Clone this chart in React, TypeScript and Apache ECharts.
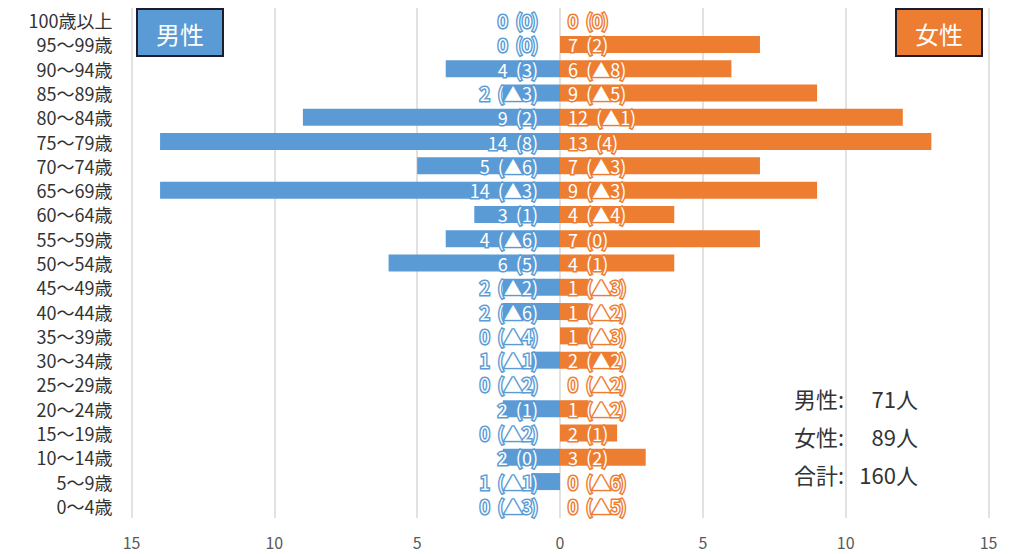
import React, { useEffect, useRef } from "react";
import * as echarts from "echarts";

const categories = [
  "100歳以上", "95～99歳", "90～94歳", "85～89歳", "80～84歳", "75～79歳", "70～74歳",
  "65～69歳", "60～64歳", "55～59歳", "50～54歳", "45～49歳", "40～44歳", "35～39歳",
  "30～34歳", "25～29歳", "20～24歳", "15～19歳", "10～14歳", "5～9歳", "0～4歳",
];
const maleValues = [0, 0, 4, 2, 9, 14, 5, 14, 3, 4, 6, 2, 2, 0, 1, 0, 2, 0, 2, 1, 0];
const maleChanges = [0, 0, 3, -3, 2, 8, -6, -3, 1, -6, 5, -2, -6, -4, -1, -2, 1, -2, 0, -1, -3];
const femaleValues = [0, 7, 6, 9, 12, 13, 7, 9, 4, 7, 4, 1, 1, 1, 2, 0, 1, 2, 3, 0, 0];
const femaleChanges = [0, 2, -8, -5, -1, 4, -3, -3, -4, 0, 1, -3, -2, -3, -2, -2, -2, 1, 2, -6, -5];
const xTicks = { min: -15, max: 15, interval: 5 };
const totalLabels = ["男性:", "女性:", "合計:"];
const totalValues = ["71人", "89人", "160人"];

const BLUE = "#5B9BD5";
const ORANGE = "#ED7D31";
const FONT = "'Noto Sans CJK JP', 'Noto Sans', sans-serif";

const fmtChange = (c: number) => (c < 0 ? "▲" + Math.abs(c) : String(c));

export default function App() {
  const ref = useRef<HTMLDivElement>(null);
  useEffect(() => {
    if (!ref.current) return;
    const chart = echarts.init(ref.current, undefined, { renderer: "svg" });
    chart.setOption({
      animation: false,
      backgroundColor: "#ffffff",
      textStyle: { fontFamily: FONT },
      grid: { left: 131.5, right: 29.5, top: 8, bottom: 36, containLabel: false },
      xAxis: {
        type: "value",
        min: xTicks.min,
        max: xTicks.max,
        interval: xTicks.interval,
        axisLine: { show: false },
        axisTick: { show: false },
        axisLabel: {
          formatter: (v: number) => String(Math.abs(v)),
          color: "#595959",
          fontSize: 16,
          lineHeight: 16,
          fontFamily: FONT,
          margin: 16,
        },
        splitLine: { show: true, lineStyle: { color: "#d9d9d9", width: 1.5 } },
      },
      yAxis: {
        type: "category",
        data: categories,
        inverse: true,
        axisLine: { show: false },
        axisTick: { show: false },
        axisLabel: { interval: 0, color: "#333333", fontSize: 18, lineHeight: 20, fontFamily: FONT, margin: 19 },
      },
      series: [
        {
          name: "男性",
          type: "bar",
          data: maleValues.map((v) => -v),
          barWidth: 17,
          barGap: "-100%",
          itemStyle: { color: BLUE },
          label: {
            show: true,
            position: "insideRight",
            distance: 22,
            formatter: (p: any) => `${maleValues[p.dataIndex]}  (${fmtChange(maleChanges[p.dataIndex])})`,
            color: "#ffffff",
            fontSize: 18,
            lineHeight: 18,
            fontFamily: FONT,
            textBorderColor: BLUE,
            textBorderWidth: 3,
          },
        },
        {
          name: "女性",
          type: "bar",
          data: femaleValues,
          barWidth: 17,
          itemStyle: { color: ORANGE },
          label: {
            show: true,
            position: "insideLeft",
            distance: 8,
            formatter: (p: any) => `${femaleValues[p.dataIndex]}  (${fmtChange(femaleChanges[p.dataIndex])})`,
            color: "#ffffff",
            fontSize: 18,
            lineHeight: 18,
            fontFamily: FONT,
            textBorderColor: ORANGE,
            textBorderWidth: 3,
          },
        },
      ],
      graphic: [
        {
          type: "group",
          left: 136,
          top: 8,
          children: [
            { type: "rect", shape: { x: 0, y: 0, width: 86, height: 47 }, style: { fill: BLUE, stroke: "#1c1c2c", lineWidth: 2 } },
            { type: "text", x: 43, y: 24, style: { text: "男性", fill: "#fff", font: `24px ${FONT}`, align: "center", verticalAlign: "middle" } },
          ],
        },
        {
          type: "group",
          left: 895,
          top: 8,
          children: [
            { type: "rect", shape: { x: 0, y: 0, width: 86, height: 47 }, style: { fill: ORANGE, stroke: "#1c1c2c", lineWidth: 2 } },
            { type: "text", x: 43, y: 24, style: { text: "女性", fill: "#fff", font: `24px ${FONT}`, align: "center", verticalAlign: "middle" } },
          ],
        },
        ...totalLabels.map((t, i) => ({
          type: "text",
          x: 794,
          y: 398 + i * 38,
          style: { text: t, fill: "#333333", font: `22px ${FONT}`, align: "left", verticalAlign: "middle" },
        })),
        ...totalValues.map((t, i) => ({
          type: "text",
          x: 918,
          y: 398 + i * 38,
          style: { text: t, fill: "#333333", font: `22px ${FONT}`, align: "right", verticalAlign: "middle" },
        })),
      ],
    });
    return () => chart.dispose();
  }, []);
  return (
    <div
      ref={ref}
      style={{ position: "fixed", left: 0, top: 0, width: 1018, height: 554 }}
    />
  );
}
